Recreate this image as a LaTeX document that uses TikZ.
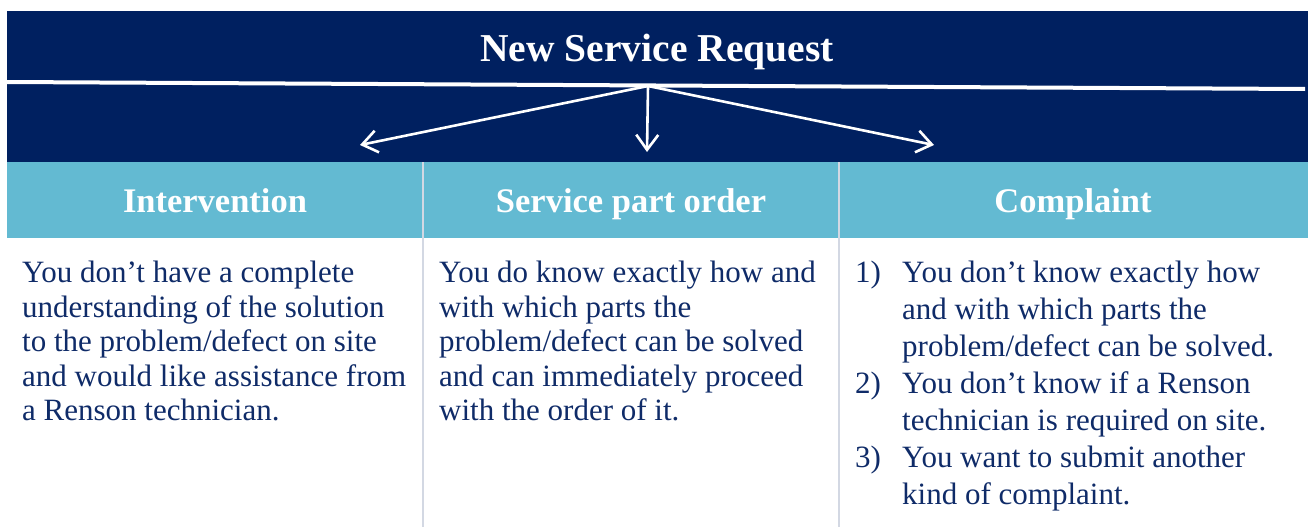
\documentclass[tikz,border=0pt]{standalone}
\usepackage{fontspec}
\setmainfont{Liberation Serif}
\usetikzlibrary{arrows.meta,positioning}

\definecolor{reqnavy}{HTML}{002060}
\definecolor{reqteal}{HTML}{63BAD2}
\definecolor{reqrule}{HTML}{D3D8E3}
\definecolor{reqtext}{HTML}{0F2B68}

\begin{document}
\begin{tikzpicture}[
  x=1pt, y=-1pt,
  >={Straight Barb[length=15pt,width=22pt]},
  title/.style={font=\fontsize{39.5}{42}\selectfont\bfseries, text=white, anchor=base, inner sep=0pt},
  head/.style={font=\fontsize{34.5}{37}\selectfont\bfseries, text=white, anchor=base, inner sep=0pt},
  cell/.style={font=\fontsize{31}{34.5}\selectfont, text=reqtext, align=left, anchor=north west, inner sep=0pt},
  arrow/.style={->, draw=white, line width=2.6pt}
]
\useasboundingbox (0,0) rectangle (1308,527);

\fill[reqnavy] (7,11) rectangle (1308,162);
\fill[reqteal] (7,162) rectangle (1308,238);
\draw[white, line width=4pt] (7,82) -- (1305,89);
\foreach \x in {423,839}
  \draw[reqrule, line width=1.5pt] (\x,162) -- (\x,527);

\node[title] (request) at (657,62) {New Service Request};

\node[head] (intervention) at (215,212) {Intervention};
\node[head] (partorder) at (631,212) {Service part order};
\node[head] (complaint) at (1073,212) {Complaint};

\coordinate (fork) at (648,86);
\coordinate (tipA) at (360,145);
\coordinate (tipB) at (647,152);
\coordinate (tipC) at (934,145);

\draw[arrow] (fork) -- (tipA);
\draw[arrow] (fork) -- (tipB);
\draw[arrow] (fork) -- (tipC);

\node[cell] (intervention-text) at (22,261) {
  You don’t have a complete\\
  understanding of the solution\\
  to the problem/defect on site\\
  and would like assistance from\\
  a Renson technician.
};

\node[cell] (partorder-text) at (439,261) {
  You do know exactly how and\\
  with which parts the\\
  problem/defect can be solved\\
  and can immediately proceed\\
  with the order of it.
};

\node[cell, font=\fontsize{31}{37}\selectfont, anchor=base west] (complaint-text) at (855,282) {%
  \begin{tabular}[t]{@{}p{47pt}@{}l@{}}
    1) & You don’t know exactly how\\
       & and with which parts the\\
       & problem/defect can be solved.\\
    2) & You don’t know if a Renson\\
       & technician is required on site.\\
    3) & You want to submit another\\
       & kind of complaint.
  \end{tabular}%
};

\end{tikzpicture}
\end{document}
